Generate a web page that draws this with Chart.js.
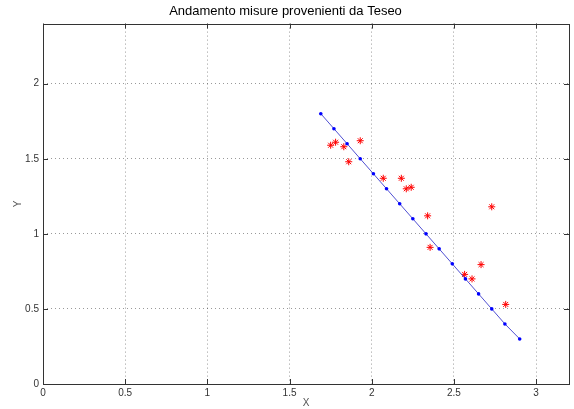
<!DOCTYPE html>
<html>
<head>
<meta charset="utf-8">
<script src="https://cdn.jsdelivr.net/npm/chart.js@4"></script>
<style>
  html, body { margin: 0; padding: 0; background: #fff; }
  #wrap { width: 574px; height: 409px; }
</style>
</head>
<body>
<div id="wrap"><canvas id="plot"></canvas></div>
<script>
// values
let modelX = [1.69, 1.77, 1.85, 1.93, 2.01, 2.09, 2.17, 2.25, 2.33, 2.41, 2.49, 2.57, 2.65, 2.73, 2.81, 2.90]
let modelY = [1.8, 1.7, 1.6, 1.5, 1.4, 1.3, 1.2, 1.1, 1.0, 0.9, 0.8, 0.7, 0.6, 0.5, 0.4, 0.3]

let misureX = [1.75, 1.78, 1.83, 1.93, 1.86, 2.07, 2.18, 2.21, 2.24, 2.34, 2.355, 2.73, 2.665, 2.565, 2.61, 2.815]
let misureY = [1.59, 1.61, 1.58, 1.62, 1.48, 1.37, 1.37, 1.30, 1.31, 1.12, 0.91, 1.18, 0.795, 0.73, 0.70, 0.53]

let xTicks = [0, 0.5, 1, 1.5, 2, 2.5, 3]
let yTicks = [0, 0.5, 1, 1.5, 2]

let toPoints = function(xs, ys){
    return xs.map((x, i) => ({x: x, y: ys[i]}))
}

// box round the axes plus inward ticks, like matlab
let axesBox = {
    id: 'axesBox',
    afterDraw(chart){
        let ctx = chart.ctx
        let a = chart.chartArea
        let sx = chart.scales.x
        let sy = chart.scales.y
        ctx.save()
        ctx.strokeStyle = '#333'
        ctx.lineWidth = 1
        ctx.beginPath()
        xTicks.forEach(v => {
            let px = Math.round(sx.getPixelForValue(v)) + 0.5
            ctx.moveTo(px, a.bottom); ctx.lineTo(px, a.bottom - 5)
            ctx.moveTo(px, a.top); ctx.lineTo(px, a.top + 5)
        })
        yTicks.forEach(v => {
            let py = Math.round(sy.getPixelForValue(v)) + 0.5
            ctx.moveTo(a.left, py); ctx.lineTo(a.left + 5, py)
            ctx.moveTo(a.right, py); ctx.lineTo(a.right - 5, py)
        })
        ctx.stroke()
        ctx.strokeRect(Math.round(a.left) + 0.5, Math.round(a.top) + 0.5,
            Math.round(a.right - a.left), Math.round(a.bottom - a.top))
        ctx.restore()
    }
}

let font = "'Liberation Sans', Arial, sans-serif"

new Chart(document.getElementById('plot').getContext('2d'), {
    type: 'scatter',
    data: {
        datasets: [
            {
                label: 'modello',
                data: toPoints(modelX, modelY),
                showLine: true,
                borderColor: 'rgb(80,80,210)',
                borderWidth: 1,
                pointBackgroundColor: '#0000ff',
                pointBorderColor: '#0000ff',
                pointRadius: 1.8,
                pointBorderWidth: 0
            },
            {
                label: 'misure',
                data: toPoints(misureX, misureY),
                showLine: false,
                pointStyle: 'star',
                pointRadius: 3.5,
                pointBorderColor: '#ff0000',
                pointBorderWidth: 1,
                pointBackgroundColor: '#ff0000'
            }
        ]
    },
    options: {
        responsive: true,
        maintainAspectRatio: false,
        animation: false,
        layout: { padding: { left: 0, right: 3, top: 0, bottom: 0 } },
        plugins: {
            legend: { display: false },
            tooltip: { enabled: false },
            title: {
                display: true,
                text: 'Andamento misure provenienti da Teseo',
                color: '#000',
                font: { family: font, size: 13, weight: 'normal' },
                padding: { top: 4, bottom: 4 }
            }
        },
        scales: {
            x: {
                type: 'linear',
                min: 0,
                max: 3.2,
                afterBuildTicks: s => { s.ticks = xTicks.map(v => ({value: v})) },
                afterFit: s => { s.height = 25 },
                ticks: {
                    color: '#333',
                    font: { family: font, size: 10 },
                    padding: 3,
                    maxRotation: 0,
                    callback: v => String(v)
                },
                grid: { color: 'rgba(0,0,0,0.4)', drawTicks: false },
                border: { display: false, dash: [1, 3] },
                title: {
                    display: true,
                    text: 'X',
                    color: '#555',
                    font: { family: font, size: 10 },
                    padding: { top: 0, bottom: 0 }
                }
            },
            y: {
                type: 'linear',
                min: 0,
                max: 2.4,
                afterBuildTicks: s => { s.ticks = yTicks.map(v => ({value: v})) },
                afterFit: s => { s.width = 43 },
                ticks: {
                    color: '#333',
                    font: { family: font, size: 10 },
                    padding: 4,
                    callback: v => String(v)
                },
                grid: { color: 'rgba(0,0,0,0.4)', drawTicks: false },
                border: { display: false, dash: [1, 3] },
                title: {
                    display: true,
                    text: 'Y',
                    color: '#555',
                    font: { family: font, size: 10 },
                    padding: { top: 12, bottom: 0 }
                }
            }
        }
    },
    plugins: [axesBox]
})
</script>
</body>
</html>
